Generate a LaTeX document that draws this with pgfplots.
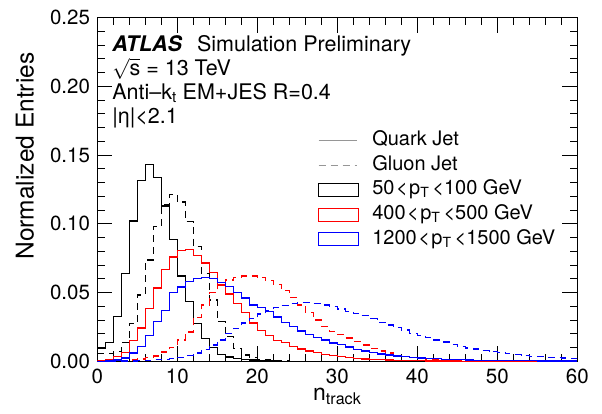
\documentclass[border=0pt]{standalone}
\usepackage{fontspec}
\setmainfont{TeX Gyre Heros}
\usepackage{pgfplots}
\usepackage{pgfplotstable}
\pgfplotsset{compat=1.18}
\definecolor{leggray}{RGB}{150,150,150}

% normalized n_track distributions, one bin per track count
% qb/gb: 50-100 GeV, qr/gr: 400-500 GeV, qbl/gbl: 1200-1500 GeV (q = quark, g = gluon)
\pgfplotstableread{
n  qb     gb     qr     gr     qbl    gbl
0  0.0095 0.0055 0.0005 0.0000 0.0000 0.0000
1  0.0136 0.0055 0.0010 0.0002 0.0003 0.0000
2  0.0325 0.0070 0.0035 0.0003 0.0010 0.0001
3  0.0640 0.0136 0.0065 0.0006 0.0025 0.0002
4  0.1020 0.0277 0.0150 0.0010 0.0060 0.0003
5  0.1315 0.0483 0.0243 0.0017 0.0110 0.0005
6  0.1434 0.0738 0.0385 0.0030 0.0190 0.0008
7  0.1337 0.0980 0.0533 0.0040 0.0290 0.0012
8  0.1130 0.1138 0.0668 0.0068 0.0370 0.0016
9  0.0884 0.1215 0.0760 0.0102 0.0500 0.0020
10 0.0620 0.1160 0.0808 0.0156 0.0540 0.0030
11 0.0434 0.1017 0.0812 0.0213 0.0580 0.0045
12 0.0277 0.0835 0.0770 0.0320 0.0605 0.0060
13 0.0168 0.0640 0.0716 0.0410 0.0612 0.0085
14 0.0100 0.0447 0.0648 0.0500 0.0605 0.0120
15 0.0048 0.0289 0.0556 0.0556 0.0573 0.0156
16 0.0033 0.0180 0.0490 0.0592 0.0543 0.0204
17 0.0022 0.0095 0.0420 0.0612 0.0500 0.0240
18 0.0015 0.0047 0.0355 0.0622 0.0461 0.0280
19 0.0010 0.0030 0.0280 0.0622 0.0410 0.0310
20 0.0006 0.0015 0.0225 0.0612 0.0390 0.0345
21 0.0004 0.0010 0.0190 0.0590 0.0362 0.0370
22 0.0002 0.0005 0.0150 0.0560 0.0323 0.0390
23 0.0001 0.0003 0.0135 0.0515 0.0281 0.0405
24 0.0000 0.0001 0.0110 0.0465 0.0252 0.0420
25 0.0000 0.0000 0.0090 0.0410 0.0221 0.0427
26 0.0000 0.0000 0.0075 0.0355 0.0198 0.0427
27 0.0000 0.0000 0.0065 0.0300 0.0172 0.0420
28 0.0000 0.0000 0.0052 0.0255 0.0155 0.0410
29 0.0000 0.0000 0.0045 0.0215 0.0134 0.0398
30 0.0000 0.0000 0.0035 0.0195 0.0124 0.0381
31 0.0000 0.0000 0.0028 0.0170 0.0104 0.0362
32 0.0000 0.0000 0.0023 0.0143 0.0087 0.0348
33 0.0000 0.0000 0.0018 0.0120 0.0076 0.0333
34 0.0000 0.0000 0.0015 0.0095 0.0063 0.0310
35 0.0000 0.0000 0.0012 0.0075 0.0054 0.0285
36 0.0000 0.0000 0.0010 0.0060 0.0047 0.0265
37 0.0000 0.0000 0.0008 0.0045 0.0040 0.0247
38 0.0000 0.0000 0.0006 0.0035 0.0035 0.0229
39 0.0000 0.0000 0.0005 0.0028 0.0030 0.0205
40 0.0000 0.0000 0.0004 0.0020 0.0025 0.0190
41 0.0000 0.0000 0.0003 0.0015 0.0022 0.0175
42 0.0000 0.0000 0.0003 0.0010 0.0019 0.0156
43 0.0000 0.0000 0.0002 0.0008 0.0016 0.0140
44 0.0000 0.0000 0.0002 0.0006 0.0014 0.0124
45 0.0000 0.0000 0.0001 0.0004 0.0012 0.0107
46 0.0000 0.0000 0.0001 0.0003 0.0010 0.0098
47 0.0000 0.0000 0.0001 0.0002 0.0009 0.0090
48 0.0000 0.0000 0.0001 0.0002 0.0008 0.0078
49 0.0000 0.0000 0.0000 0.0001 0.0007 0.0070
50 0.0000 0.0000 0.0000 0.0001 0.0006 0.0063
51 0.0000 0.0000 0.0000 0.0001 0.0005 0.0055
52 0.0000 0.0000 0.0000 0.0000 0.0005 0.0050
53 0.0000 0.0000 0.0000 0.0000 0.0004 0.0042
54 0.0000 0.0000 0.0000 0.0000 0.0004 0.0038
55 0.0000 0.0000 0.0000 0.0000 0.0003 0.0034
56 0.0000 0.0000 0.0000 0.0000 0.0003 0.0030
57 0.0000 0.0000 0.0000 0.0000 0.0002 0.0027
58 0.0000 0.0000 0.0000 0.0000 0.0002 0.0025
59 0.0000 0.0000 0.0000 0.0000 0.0002 0.0023
60 0.0000 0.0000 0.0000 0.0000 0.0002 0.0023
}\hists

\begin{document}
\fontsize{21.5}{25}\selectfont
\begin{tikzpicture}
\path[use as bounding box] (-97.3pt,-52.6pt) rectangle (504.7pt,361.4pt);
\begin{axis}[
    at={(0pt,0pt)}, anchor=south west,
    scale only axis, width=480pt, height=343.8pt,
    xmin=0, xmax=60, ymin=0, ymax=0.25,
    xtick={0,10,20,30,40,50,60},
    ytick={0,0.05,0.10,0.15,0.20,0.25},
    minor x tick num=4, minor y tick num=4,
    tick align=inside, tick pos=both,
    xticklabel pos=lower, yticklabel pos=left,
    major tick length=15pt, minor tick length=7.5pt,
    every tick/.style={black, line width=1pt},
    axis line style={line width=1.2pt},
    /pgf/number format/assume math mode=true,
    ticklabel style={font=\fontsize{20.5}{24}\selectfont},
    yticklabel style={/pgf/number format/.cd, fixed, fixed zerofill, precision=2},
    xlabel={n\textsubscript{track}},
    ylabel={Normalized Entries},
    x label style={at={(axis description cs:0.5,-0.115)}, anchor=base, font=\fontsize{23}{26}\selectfont},
    y label style={at={(axis description cs:-0.151,0.597)}, anchor=center, font=\fontsize{24.5}{28}\selectfont},
    const plot mark left,
    every axis plot/.append style={line width=1.3pt, mark=none},
    legend style={draw=none, fill=none, at={(axis cs:27.2,0.170)}, anchor=north west,
        font=\fontsize{20}{24}\selectfont,
        row sep=3.2pt, nodes={inner sep=1pt, text height=14.5pt, text depth=5pt}},
    legend cell align=left,
]
\addlegendimage{legend image code/.code={\draw[leggray, line width=1pt] (0pt,0pt) -- (38pt,0pt);}}
\addlegendentry{\hspace{12pt}Quark Jet}
\addlegendimage{legend image code/.code={\draw[leggray, line width=1pt, dash pattern=on 7pt off 5pt] (0pt,0pt) -- (38pt,0pt);}}
\addlegendentry{\hspace{12pt}Gluon Jet}
\addlegendimage{legend image code/.code={\draw[black, line width=1.2pt] (0pt,-6.5pt) rectangle (40pt,6.5pt);}}
\addlegendentry{\hspace{12pt}50\kern1.5pt<\kern1.5pt p\textsubscript{T}\kern3pt<100 GeV}
\addlegendimage{legend image code/.code={\draw[red, line width=1.2pt] (0pt,-6.5pt) rectangle (40pt,6.5pt);}}
\addlegendentry{\hspace{12pt}400\kern1.5pt<\kern1.5pt p\textsubscript{T}\kern3pt<500 GeV}
\addlegendimage{legend image code/.code={\draw[blue, line width=1.2pt] (0pt,-6.5pt) rectangle (40pt,6.5pt);}}
\addlegendentry{\hspace{12pt}1200\kern1.5pt<\kern1.5pt p\textsubscript{T}\kern3pt<1500 GeV}

\addplot[black, forget plot] table[x=n, y=qb] {\hists};
\addplot[black, dash pattern=on 7pt off 5pt, forget plot] table[x=n, y=gb] {\hists};
\addplot[red, forget plot] table[x=n, y=qr] {\hists};
\addplot[red, dash pattern=on 7pt off 5pt, forget plot] table[x=n, y=gr] {\hists};
\addplot[blue, forget plot] table[x=n, y=qbl] {\hists};
\addplot[blue, dash pattern=on 7pt off 5pt, forget plot] table[x=n, y=gbl] {\hists};

\node[anchor=base west, inner sep=0pt] at (axis cs:1.85,0.2255) {{\bfseries\itshape ATLAS}\hspace{15pt}Simulation Preliminary};
\node[anchor=base west, inner sep=0pt] at (axis cs:1.85,0.2077) {\smash{$\sqrt{\mbox{s}}$} = 13 TeV};
\node[anchor=base west, inner sep=0pt] at (axis cs:1.85,0.1902) {Anti--k\textsubscript{t} EM+JES R=0.4};
\node[anchor=base west, inner sep=0pt] at (axis cs:1.85,0.1728) {|η|<2.1};
\end{axis}
\end{tikzpicture}
\end{document}
